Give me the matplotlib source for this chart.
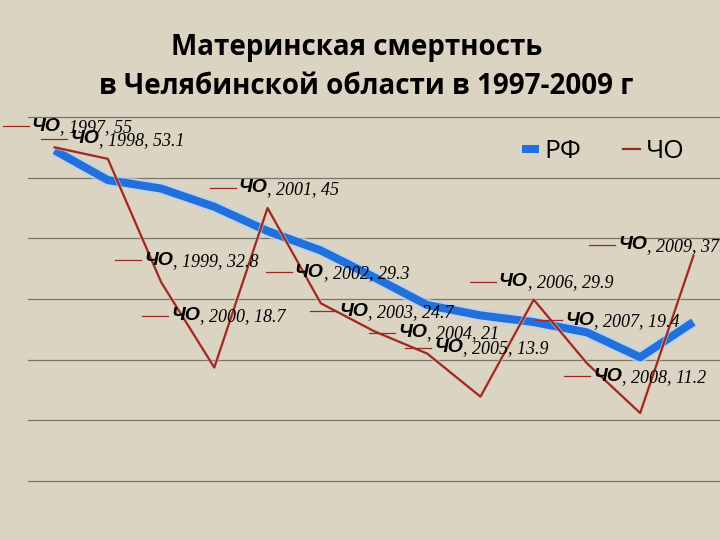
import matplotlib
matplotlib.use("Agg")
import matplotlib.pyplot as plt
from matplotlib.lines import Line2D
from matplotlib.transforms import IdentityTransform

# data
years = [1997, 1998, 1999, 2000, 2001, 2002, 2003, 2004, 2005, 2006, 2007, 2008, 2009]
rf = [54.5, 49.6, 48.2, 45.2, 41.2, 38.0, 33.6, 29.0, 27.3, 26.2, 24.5, 20.4, 26.2]
cho = [55, 53.1, 32.8, 18.7, 45, 29.3, 24.7, 21, 13.9, 29.9, 19.4, 11.2, 37.1]
cho_labels = ["55", "53.1", "32.8", "18.7", "45", "29.3", "24.7", "21",
              "13.9", "29.9", "19.4", "11.2", "37.1"]

# where each data label starts, relative to its point (pixels)
label_offsets = [(-23, 21), (-38, 20), (-17, 22), (-43, 52), (-29, 20), (-26, 31),
                 (-35, 20), (-29, 21), (-46, 49), (-35, 18), (-22, 43), (-47, 37),
                 (-75, 11)]

bg = "#dcd4c3"
blue = "#2270dc"
red = "#9a2b23"

fig = plt.figure(figsize=(7.2, 5.4), dpi=100, facecolor=bg)
ax = fig.add_axes([28 / 720, 1 - 481 / 540, 1 - 28 / 720, (481 - 117) / 540])
ax.set_facecolor(bg)

ax.set_xlim(1996.5, 2009.5)
ax.set_ylim(0, 60)
ax.set_yticks(range(0, 61, 10))
ax.grid(axis="y", color="#7a7468", lw=0.9)
for gl in ax.get_ygridlines():
    gl.set_clip_on(False)
ax.tick_params(left=False, bottom=False, labelleft=False, labelbottom=False)
for s in ax.spines.values():
    s.set_visible(False)

# lines with a soft halo
ax.plot(years, rf, color="#b9d3f2", lw=9, alpha=0.7, solid_capstyle="butt", zorder=2)
ax.plot(years, rf, color=blue, lw=5.8, solid_capstyle="butt", zorder=3, label="РФ")
ax.plot(years, cho, color="#e8c9b8", lw=3, alpha=0.6, zorder=4)
ax.plot(years, cho, color=red, lw=1.6, zorder=5, label="ЧО")

# data labels: short series key + "ЧО" + ", year, value"
for yr, v, lab, (dx, dy) in zip(years, cho, cho_labels, label_offsets):
    px, py = ax.transData.transform((yr, v))
    x0, y0 = px + dx, py + dy
    fig.add_artist(Line2D([x0 - 29, x0 - 3], [y0, y0], color=red, lw=0.9,
                          transform=IdentityTransform()))
    t1 = fig.text(x0, y0, "ЧО", transform=IdentityTransform(), ha="left", va="center",
                  fontsize=14, fontweight="bold", style="italic",
                  family="Liberation Sans", zorder=6)
    ax.annotate(", " + str(yr) + ", " + lab, xy=(1, 0.42), xycoords=t1,
                ha="left", va="center", fontsize=13, style="italic",
                family="Liberation Serif", annotation_clip=False, zorder=6)

leg = ax.legend(loc="center", bbox_to_anchor=(603 / 720, 1 - 152 / 540),
                bbox_transform=fig.transFigure, ncol=2, frameon=False,
                handlelength=0.65, handletextpad=0.2, columnspacing=1.6,
                prop={"family": "Open Sans", "size": 19})

fig.text(0.496, 1 - 48 / 540, "Материнская смертность", ha="center", va="center",
         fontsize=20, fontweight="bold", family="Open Sans")
fig.text(0.508, 1 - 86 / 540, "в Челябинской области в 1997-2009 г", ha="center",
         va="center", fontsize=20, fontweight="bold", family="Open Sans")

fig.savefig("out.png", dpi=100, facecolor=bg)
